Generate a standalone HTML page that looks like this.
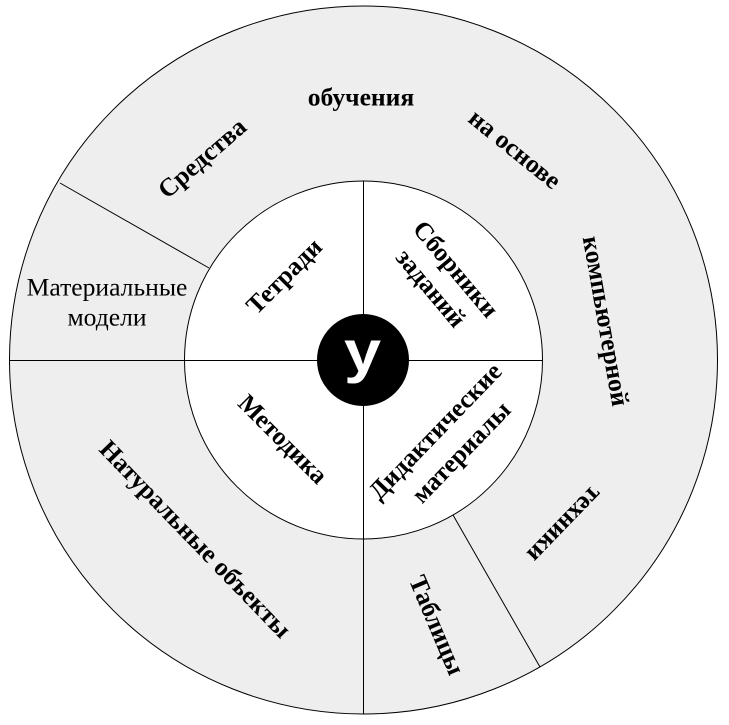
<!DOCTYPE html>
<html lang="ru">
<head>
<meta charset="utf-8">
<title>Средства обучения</title>
<style>
html,body{margin:0;padding:0;background:#fff;width:729px;height:725px;overflow:hidden}
svg{display:block}
text{font-family:"Liberation Serif","DejaVu Serif",serif;font-size:25.6px;font-weight:bold;fill:#000;text-anchor:middle;dominant-baseline:central}
</style>
</head>
<body>
<svg width="729" height="725" viewBox="0 0 729 725" xmlns="http://www.w3.org/2000/svg">
<rect width="729" height="725" fill="#fff"/>
<circle cx="363.5" cy="360" r="354" fill="#eeeeee" stroke="#000" stroke-width="1"/>
<circle cx="363.5" cy="360" r="179" fill="#fff" stroke="#000" stroke-width="1"/>
<line x1="9.5" y1="360.5" x2="542" y2="360.5" stroke="#000" stroke-width="1"/>
<line x1="363.5" y1="181" x2="363.5" y2="714" stroke="#000" stroke-width="1"/>
<line x1="60" y1="183" x2="209" y2="268" stroke="#000" stroke-width="1"/>
<line x1="453" y1="515" x2="540" y2="667" stroke="#000" stroke-width="1"/>
<circle cx="363" cy="360" r="46" fill="#000"/>
<text transform="translate(362.5 352) scale(1.15 1)" style="font-family:'Liberation Sans',sans-serif;font-size:58px;fill:#fff">у</text>

<text x="361" y="97">обучения</text>
<text transform="translate(515 149) rotate(39)">на основе</text>
<text transform="translate(202 158) rotate(-41)">Средства</text>
<text transform="translate(606 321) rotate(80)">компьютерной</text>
<text transform="translate(565 525) rotate(134)">техники</text>
<text transform="translate(437 625) rotate(67)">Таблицы</text>
<text transform="translate(195.5 539) rotate(46)">Натуральные объекты</text>
<text transform="translate(283 439) rotate(45)">Методика</text>
<text transform="translate(435 431) rotate(-46)">Дидактические</text>
<text transform="translate(461 452) rotate(-46)">материалы</text>
<text transform="translate(456 269) rotate(50)">Сборники</text>
<text transform="translate(431 288) rotate(50)">заданий</text>
<text transform="translate(284 276) rotate(-45)">Тетради</text>
<text x="107" y="287" style="font-weight:normal">Материальные</text>
<text x="107" y="317" style="font-weight:normal">модели</text>
</svg>
</body>
</html>
